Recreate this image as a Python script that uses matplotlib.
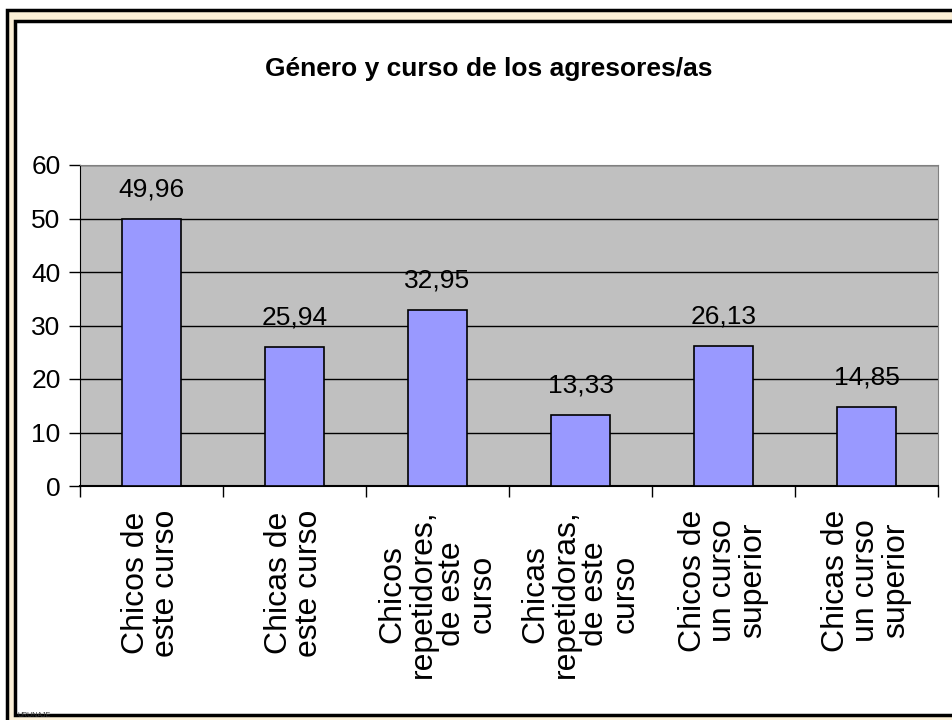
"""
Bar chart: genero y curso de los agresores/as
"""
import matplotlib
matplotlib.use('Agg')
from matplotlib import pyplot as plt
from matplotlib.patches import Rectangle

CATEGORIES = ['Chicos de\neste curso',
              'Chicas de\neste curso',
              'Chicos\nrepetidores,\nde este\ncurso',
              'Chicas\nrepetidoras,\nde este\ncurso',
              'Chicos de\nun curso\nsuperior',
              'Chicas de\nun curso\nsuperior']
VALUES = [49.96, 25.94, 32.95, 13.33, 26.13, 14.85]
VALUE_LABELS = ['49,96', '25,94', '32,95', '13,33', '26,13', '14,85']
Y_TICKS = [0, 10, 20, 30, 40, 50, 60]

FONT = ['Liberation Sans', 'DejaVu Sans']

W, H = 953, 720
fig = plt.figure(figsize=(W / 100, H / 100), dpi=100)
fig.patch.set_facecolor('white')

# outer beige frame with black lines (cropped at right and bottom)
fig.patches.append(Rectangle((7 / W, 1 - 740 / H), 960 / W, (740 - 10) / H,
                             transform=fig.transFigure, facecolor='#fbefd6',
                             edgecolor='black', linewidth=2.5, zorder=0))
fig.patches.append(Rectangle((15 / W, 1 - 715 / H), 960 / W, (715 - 21) / H,
                             transform=fig.transFigure, facecolor='white',
                             edgecolor='black', linewidth=2.5, zorder=0))

ax = fig.add_axes([80 / W, 1 - 486 / H, (938 - 80) / W, (486 - 165) / H])
ax.set_zorder(5)
ax.set_facecolor('#c0c0c0')

x = list(range(len(VALUES)))
bars = ax.bar(x, VALUES, width=0.41, color='#9999ff', edgecolor='black',
              linewidth=1.2, zorder=3)
for rect, lab in zip(bars, VALUE_LABELS):
    ax.annotate(lab, xy=(rect.get_x() + rect.get_width() / 2, rect.get_height()),
                xytext=(0, 16), textcoords='offset points',
                ha='center', va='baseline', fontsize=19, family=FONT)

ax.set_xlim(-0.5, len(VALUES) - 0.5)
ax.set_ylim(0, 60)
ax.set_yticks(Y_TICKS)
ax.set_yticklabels([str(t) for t in Y_TICKS], fontsize=19, family=FONT)
ax.yaxis.grid(True, color='black', linewidth=1)
ax.set_axisbelow(True)
ax.tick_params(axis='y', length=8, width=1, pad=6)

# category boundaries as x ticks, labels placed separately
ax.set_xticks([i - 0.5 for i in range(len(VALUES) + 1)])
ax.set_xticklabels([])
ax.tick_params(axis='x', length=8, width=1)
for i, lab in enumerate(CATEGORIES):
    ax.annotate(lab, xy=(i, 0), xycoords=('data', 'axes fraction'),
                xytext=(0, -17), textcoords='offset points',
                rotation=90, ha='center', va='top', multialignment='center',
                fontsize=23, family=FONT, linespacing=1.0)

for side in ['top', 'right']:
    ax.spines[side].set_color('#808080')
ax.spines['left'].set_color('black')
ax.spines['bottom'].set_color('black')
ax.spines['bottom'].set_linewidth(1.5)

fig.text(489 / W, 1 - 69 / H, 'Género y curso de los agresores/as',
         ha='center', va='center', fontsize=19, fontweight='bold', family=FONT)

fig.text(18 / W, 1 - 719 / H, 'URUNAJE', fontsize=5, color='#333333',
         family=FONT, va='bottom')

fig.savefig('out.png', dpi=100, facecolor=fig.get_facecolor())
